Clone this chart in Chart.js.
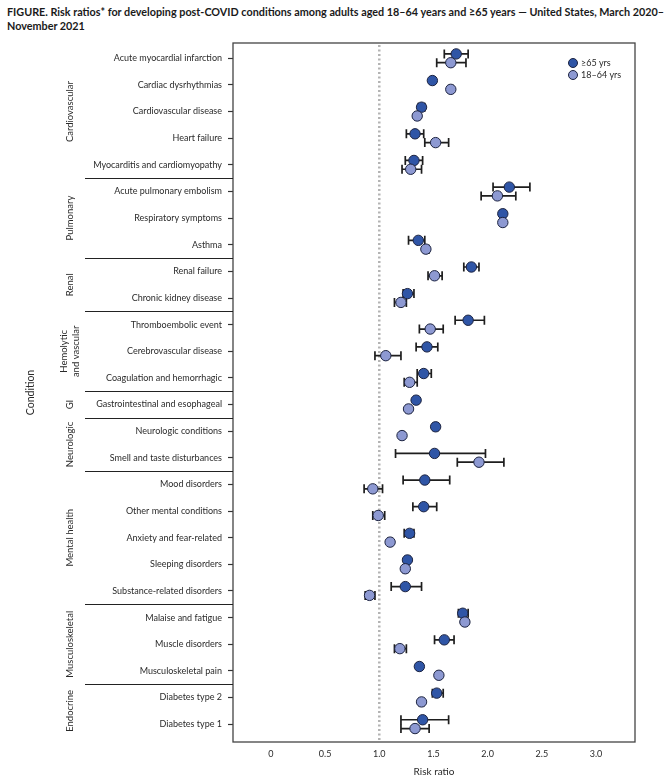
<!DOCTYPE html>
<html>
<head>
<meta charset="utf-8">
<script src="https://cdn.jsdelivr.net/npm/chart.js@4.4.1/dist/chart.umd.min.js"></script>
<style>
  body{margin:0;background:#fff;width:669px;height:782px;overflow:hidden;position:relative;}
  #titulo{position:absolute;left:7px;top:5px;font-family:Lato,'Open Sans',sans-serif;font-weight:bold;font-size:10.8px;line-height:14px;color:#1a1a1a;white-space:nowrap;}
  #wrap{position:absolute;left:0;top:0;width:669px;height:782px;}
</style>
</head>
<body>
<div id="titulo">FIGURE. Risk ratios* for developing post-COVID conditions among adults aged 18–64 years and ≥65 years — United States, March 2020–<br>November 2021</div>
<div id="wrap"><canvas id="grafico"></canvas></div>
<script>
// condicoes (de cima pra baixo)
var condicoes = ['Acute myocardial infarction','Cardiac dysrhythmias','Cardiovascular disease','Heart failure','Myocarditis and cardiomyopathy',
  'Acute pulmonary embolism','Respiratory symptoms','Asthma',
  'Renal failure','Chronic kidney disease',
  'Thromboembolic event','Cerebrovascular disease','Coagulation and hemorrhagic',
  'Gastrointestinal and esophageal',
  'Neurologic conditions','Smell and taste disturbances',
  'Mood disorders','Other mental conditions','Anxiety and fear-related','Sleeping disorders','Substance-related disorders',
  'Malaise and fatigue','Muscle disorders','Musculoskeletal pain',
  'Diabetes type 2','Diabetes type 1'];

// grupos: nome (linhas do texto), primeira e ultima linha
var grupos = [
  {nome:['Cardiovascular'], ini:0, fim:4},
  {nome:['Pulmonary'], ini:5, fim:7},
  {nome:['Renal'], ini:8, fim:9},
  {nome:['Hemolytic','and vascular'], ini:10, fim:12},
  {nome:['GI'], ini:13, fim:13},
  {nome:['Neurologic'], ini:14, fim:15},
  {nome:['Mental health'], ini:16, fim:20},
  {nome:['Musculoskeletal'], ini:21, fim:23},
  {nome:['Endocrine'], ini:24, fim:25}
];

// >=65 anos
var rr65  = [1.71,1.49,1.39,1.33,1.32, 2.20,2.14,1.36, 1.85,1.26, 1.82,1.44,1.41, 1.34, 1.52,1.51, 1.42,1.41,1.28,1.26,1.24, 1.77,1.60,1.37, 1.53,1.40];
var lo65  = [1.60,1.47,1.36,1.25,1.24, 2.05,2.12,1.27, 1.78,1.22, 1.70,1.34,1.35, 1.32, 1.50,1.15, 1.22,1.31,1.23,1.24,1.11, 1.73,1.51,1.35, 1.49,1.20];
var hi65  = [1.82,1.51,1.42,1.41,1.40, 2.39,2.16,1.42, 1.92,1.32, 1.97,1.54,1.48, 1.36, 1.54,1.98, 1.65,1.53,1.32,1.28,1.39, 1.82,1.69,1.39, 1.59,1.64];

// 18-64 anos
var rr18  = [1.66,1.66,1.35,1.52,1.29, 2.09,2.14,1.43, 1.51,1.20, 1.47,1.06,1.28, 1.27, 1.21,1.92, 0.94,0.99,1.10,1.24,0.91, 1.79,1.19,1.55, 1.39,1.33];
var lo18  = [1.53,1.64,1.33,1.42,1.21, 1.94,2.12,1.41, 1.45,1.14, 1.37,0.96,1.23, 1.25, 1.19,1.72, 0.86,0.94,1.08,1.22,0.87, 1.77,1.14,1.53, 1.37,1.20];
var hi18  = [1.80,1.68,1.37,1.64,1.39, 2.26,2.16,1.46, 1.58,1.25, 1.59,1.20,1.35, 1.29, 1.23,2.15, 1.03,1.05,1.12,1.26,0.96, 1.81,1.25,1.57, 1.41,1.46];

var xTicks = [0,0.5,1.0,1.5,2.0,2.5,3.0];
var legendas = ['≥65 yrs','18–64 yrs'];

var corEscura = '#2f55a6';
var corClara = '#8d99d2';
var fonte = "Lato, 'Open Sans', sans-serif";
var desl = 0.165; //deslocamento vertical de cada serie

function pontos(vals, d){
  return vals.map(function(v,i){ return {x:v, y:i + d}; });
}

//barras de erro + moldura + grupos
var extras = {
  id:'extras',
  beforeDatasetsDraw:function(chart){
    var c = chart.ctx, xs = chart.scales.x, ys = chart.scales.y;
    // linha de referencia em 1.0
    c.save();
    c.strokeStyle = '#b3b3b3';
    c.lineWidth = 2.5;
    c.setLineDash([2,2.5]);
    var px = xs.getPixelForValue(1.0);
    c.beginPath();
    c.moveTo(px, chart.chartArea.top + 2);
    c.lineTo(px, chart.chartArea.bottom);
    c.stroke();
    c.restore();

    var series = [[rr65,lo65,hi65,-desl],[rr18,lo18,hi18,desl]];
    c.save();
    c.strokeStyle = '#1e1e1e';
    c.lineWidth = 1.7;
    series.forEach(function(s){
      s[0].forEach(function(v,i){
        var y = ys.getPixelForValue(i + s[3]);
        var a = xs.getPixelForValue(s[1][i]);
        var b = xs.getPixelForValue(s[2][i]);
        c.beginPath();
        c.moveTo(a,y); c.lineTo(b,y);
        c.moveTo(a,y-4.5); c.lineTo(a,y+4.5);
        c.moveTo(b,y-4.5); c.lineTo(b,y+4.5);
        c.stroke();
      });
    });
    c.restore();
  },
  afterDraw:function(chart){
    var c = chart.ctx, ys = chart.scales.y, area = chart.chartArea;
    c.save();
    // moldura
    c.strokeStyle = '#444';
    c.lineWidth = 1.3;
    c.strokeRect(area.left, area.top, area.right - area.left, area.bottom - area.top);

    // separadores dos grupos
    c.strokeStyle = '#222';
    c.lineWidth = 1.2;
    grupos.forEach(function(g,k){
      if(k == grupos.length - 1) return;
      var y = Math.round(ys.getPixelForValue(g.fim + 0.5)) + 0.5;
      c.beginPath();
      c.moveTo(85, y); c.lineTo(area.left, y);
      c.stroke();
    });

    // nomes dos grupos (girados)
    c.fillStyle = '#2a2a2a';
    c.font = '9.5px ' + fonte;
    c.textAlign = 'center';
    c.textBaseline = 'middle';
    grupos.forEach(function(g){
      var y = ys.getPixelForValue((g.ini + g.fim) / 2);
      c.save();
      c.translate(70, y);
      c.rotate(-Math.PI/2);
      if(g.nome.length == 1){
        c.fillText(g.nome[0], 0, 0);
      }else{
        c.fillText(g.nome[0], 0, -6);
        c.fillText(g.nome[1], 0, 6);
      }
      c.restore();
    });

    // titulo do eixo y
    c.save();
    c.font = '10.5px ' + fonte;
    c.translate(31, (area.top + area.bottom) / 2);
    c.rotate(-Math.PI/2);
    c.fillText('Condition', 0, 0);
    c.restore();

    // legenda
    var cores = [corEscura, corClara];
    c.font = '9px ' + fonte;
    c.textAlign = 'left';
    legendas.forEach(function(t,i){
      var y = 63 + i * 12;
      c.beginPath();
      c.arc(573, y, 4.5, 0, Math.PI*2);
      c.fillStyle = cores[i];
      c.fill();
      c.strokeStyle = '#1c2340';
      c.lineWidth = 1;
      c.stroke();
      c.fillStyle = '#2a2a2a';
      c.fillText(t, 581, y + 0.5);
    });
    c.restore();
  }
};

new Chart(document.getElementById('grafico'), {
  type:'scatter',
  data:{
    datasets:[{
      label:legendas[0],
      data:pontos(rr65, -desl),
      backgroundColor:corEscura,
      borderColor:'#1c2340',
      borderWidth:1,
      pointRadius:5.2,
      order:2
    },{
      label:legendas[1],
      data:pontos(rr18, desl),
      backgroundColor:corClara,
      borderColor:'#1c2340',
      borderWidth:1,
      pointRadius:5.2,
      order:1
    }]
  },
  options:{
    responsive:true,
    maintainAspectRatio:false,
    animation:false,
    events:[],
    layout:{padding:{top:43, right:34, left:0, bottom:0}},
    plugins:{legend:{display:false}, tooltip:{enabled:false}},
    scales:{
      x:{
        type:'linear',
        min:-0.35, max:3.36,
        afterBuildTicks:function(s){ s.ticks = xTicks.map(function(v){ return {value:v}; }); },
        afterFit:function(s){ s.height = 40; },
        grid:{drawOnChartArea:false, drawTicks:false, tickLength:0},
        border:{display:false},
        ticks:{
          color:'#2a2a2a', font:{family:fonte, size:9}, padding:7, maxRotation:0,
          callback:function(v){ return v === 0 ? '0' : v.toFixed(1); }
        },
        title:{display:true, text:'Risk ratio', color:'#2a2a2a', font:{family:fonte, size:10}, padding:{top:2}}
      },
      y:{
        type:'linear',
        reverse:true,
        min:-0.575, max:25.67,
        afterBuildTicks:function(s){ s.ticks = condicoes.map(function(n,i){ return {value:i}; }); },
        afterFit:function(s){ s.width = 233; },
        grid:{drawOnChartArea:false, drawTicks:true, tickLength:5, tickColor:'#333', tickWidth:1.2},
        border:{display:false},
        ticks:{
          color:'#2a2a2a', font:{family:fonte, size:9}, padding:6, autoSkip:false,
          callback:function(v){ return condicoes[v]; }
        }
      }
    }
  },
  plugins:[extras]
});
</script>
</body>
</html>
